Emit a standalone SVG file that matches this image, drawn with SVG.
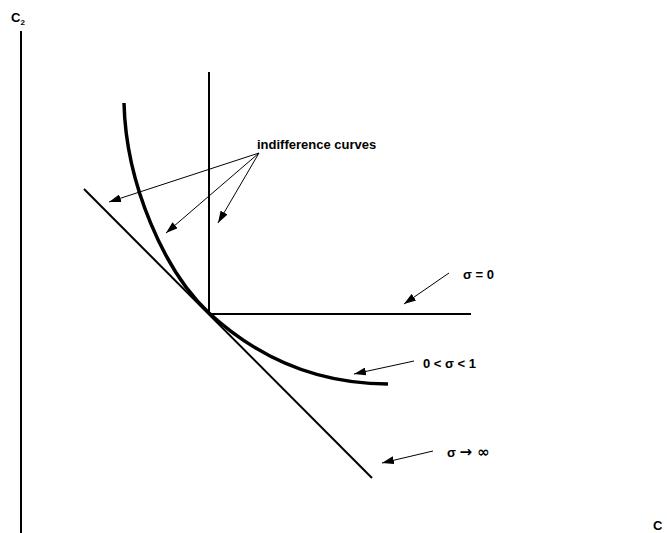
<svg xmlns="http://www.w3.org/2000/svg" width="667" height="533" viewBox="0 0 667 533">
<style>
text{font-family:"Liberation Sans",Arial,sans-serif;font-weight:bold;font-size:13px;fill:#000}
.sym{font-family:"DejaVu Sans",sans-serif;font-weight:bold}
.ax{stroke:#000;stroke-width:2;fill:none}
.ln{stroke:#000;stroke-width:2;fill:none}
.cv{stroke:#000;stroke-width:3.5;fill:none}
.ar{stroke:#000;stroke-width:1;fill:none;marker-end:url(#ah)}
</style>
<defs>
<marker id="ah" viewBox="0 0 12 8" refX="12" refY="4" markerWidth="12" markerHeight="8" markerUnits="userSpaceOnUse" orient="auto">
<path d="M0,0 L12,4 L0,8 z" fill="#000"/>
</marker>
</defs>
<g id="axes">
<line class="ax" x1="21" y1="31" x2="21" y2="533"/>
<text x="11" y="22" font-size="12">C<tspan font-size="8" dy="3">2</tspan></text>
<text x="653" y="530" font-size="12">C</text>
</g>
<g id="leontief">
<polyline class="ln" points="209,72 209,314 471,314"/>
</g>
<g id="linear">
<line class="ln" x1="84" y1="189" x2="372" y2="478"/>
</g>
<g id="ces">
<path class="cv" d="M124,103 C126,185 165,272 209,313 C258,358 318,384 388,384"/>
</g>
<g id="labels">
<text x="257" y="149">indifference curves</text>
<text x="463" y="279">σ = 0</text>
<text x="423" y="368">0 &lt; σ &lt; 1</text>
<text x="447" y="457">σ <tspan class="sym" font-size="15">→ ∞</tspan></text>
</g>
<g id="connectors">
<line class="ar" x1="259" y1="153" x2="109" y2="202"/>
<line class="ar" x1="259" y1="153" x2="166" y2="233"/>
<line class="ar" x1="259" y1="153" x2="218" y2="223"/>
<line class="ar" x1="449" y1="273" x2="404" y2="304"/>
<line class="ar" x1="414" y1="361" x2="354" y2="374"/>
<line class="ar" x1="433" y1="451" x2="382" y2="463"/>
</g>
</svg>
